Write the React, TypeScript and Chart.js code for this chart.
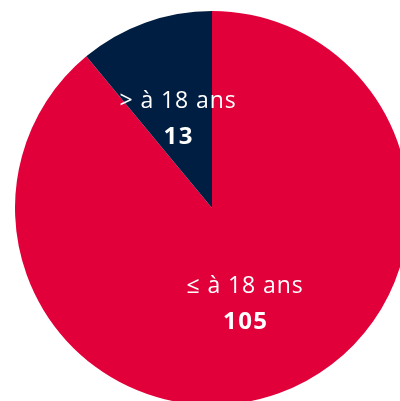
import React, { useEffect, useRef } from "react";
import { Chart, registerables } from "chart.js";
Chart.register(...registerables);

const categories = ["≤ à 18 ans", "> à 18 ans"];
const values = [105, 13];
const colors = ["#E2003B", "#001E41"];

const labelPlugin = {
  id: "sliceLabels",
  afterDatasetsDraw(chart: any) {
    const ctx = chart.ctx;
    const meta = chart.getDatasetMeta(0);
    const offsets = [
      { dx: 33, dy: 85 },
      { dx: -34, dy: -100.5 },
    ];
    meta.data.forEach((arc: any, i: number) => {
      const x = arc.x + offsets[i].dx;
      const y = arc.y + offsets[i].dy;
      ctx.save();
      ctx.fillStyle = "#ffffff";
      ctx.textAlign = "center";
      ctx.textBaseline = "alphabetic";
      ctx.letterSpacing = "0.9px";
      ctx.font = "23px 'Open Sans'";
      ctx.fillText(categories[i], x, y);
      ctx.letterSpacing = "1.5px";
      ctx.font = "bold 24px 'Open Sans'";
      ctx.fillText(String(values[i]), x + 0.75, y + 36);
      ctx.restore();
    });
  },
};

export default function App() {
  const ref = useRef<HTMLCanvasElement>(null);
  useEffect(() => {
    if (!ref.current) return;
    const chart = new Chart(ref.current, {
      type: "pie",
      data: {
        labels: categories,
        datasets: [{ data: values, backgroundColor: colors, borderWidth: 0 }],
      },
      options: {
        responsive: false,
        animation: false,
        plugins: { legend: { display: false }, tooltip: { enabled: false } },
        layout: { padding: 0 },
      },
      plugins: [labelPlugin],
    });
    return () => chart.destroy();
  }, []);
  return (
    <div style={{ position: "fixed", left: 15, top: 11, width: 394, height: 394 }}>
      <canvas ref={ref} width={394} height={394} />
    </div>
  );
}
